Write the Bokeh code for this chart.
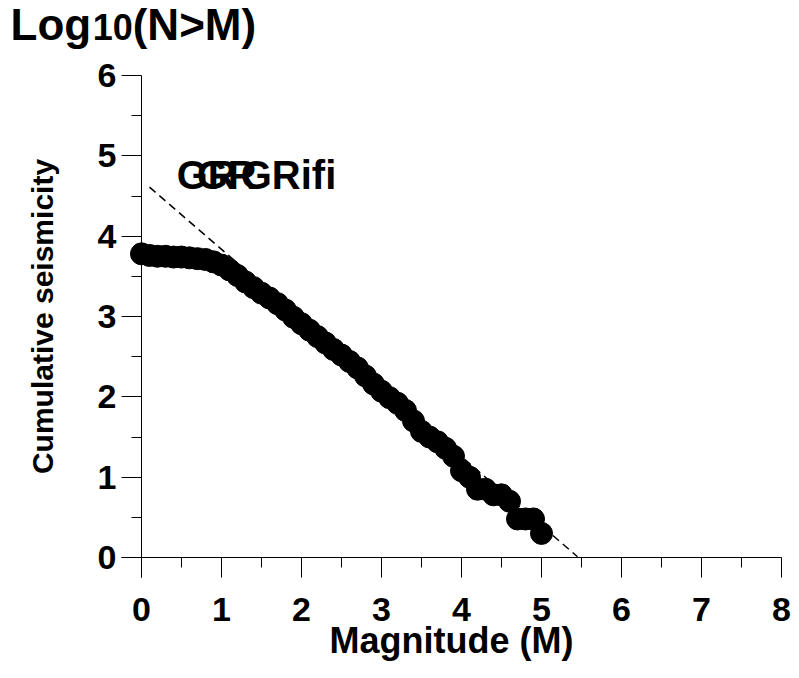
from bokeh.plotting import figure
from bokeh.models import Label, FixedTicker, Range1d, LinearAxis
from bokeh.embed import file_html
from bokeh.resources import INLINE

# ---- data ----
magnitude = [0.0, 0.1, 0.2, 0.3, 0.4, 0.5, 0.6, 0.7, 0.8, 0.9,
             1.0, 1.1, 1.2, 1.3, 1.4, 1.5, 1.6, 1.7, 1.8, 1.9,
             2.0, 2.1, 2.2, 2.3, 2.4, 2.5, 2.6, 2.7, 2.8, 2.9,
             3.0, 3.1, 3.2, 3.3, 3.4, 3.5, 3.6, 3.7, 3.8, 3.9,
             4.0, 4.1, 4.2, 4.3, 4.4, 4.5, 4.6, 4.7, 4.8, 4.9, 5.0]
log_n = [3.78, 3.76, 3.75, 3.75, 3.74, 3.74, 3.73, 3.72, 3.71, 3.68,
         3.64, 3.58, 3.51, 3.43, 3.36, 3.29, 3.23, 3.16, 3.08, 2.99,
         2.91, 2.83, 2.75, 2.67, 2.59, 2.52, 2.44, 2.36, 2.26, 2.16,
         2.07, 1.99, 1.92, 1.83, 1.70, 1.57, 1.50, 1.44, 1.36, 1.26,
         1.08, 1.00, 0.85, 0.85, 0.78, 0.78, 0.70, 0.48, 0.48, 0.48, 0.30]

fit_m = [0.1, 5.45]
fit_log_n = [4.61, 0.01]

x_ticks = [0, 1, 2, 3, 4, 5, 6, 7, 8]
x_minor = [0.5, 1.5, 2.5, 3.5, 4.5, 5.5, 6.5, 7.5]
y_ticks = [0, 1, 2, 3, 4, 5, 6]
y_minor = [0.5, 1.5, 2.5, 3.5, 4.5, 5.5]

x_label = "Magnitude (M)"
y_label = "Cumulative seismicity"
title_parts = ["Log", "10", "(N>M)"]
gr_labels = ["GR", "GR", "GRifi"]

FONT = "Liberation Sans"

# frame covers the whole canvas; axes sit at the origin
p = figure(width=799, height=678, output_backend="svg", toolbar_location=None,
           title=None, x_axis_location=None, y_axis_location=None,
           x_range=Range1d(-1.7625, 8.225), y_range=Range1d(-1.50622, 6.93361),
           min_border=0)
p.outline_line_color = None
p.grid.visible = False
p.background_fill_color = "white"
p.border_fill_color = "white"


def text_axis(side, ticks, bounds, standoff):
    ax = LinearAxis(fixed_location=0, bounds=bounds,
                    ticker=FixedTicker(ticks=ticks, minor_ticks=[]),
                    axis_line_color=None,
                    major_tick_line_color=None, minor_tick_line_color=None,
                    major_tick_out=20, major_tick_in=0,
                    minor_tick_out=0, minor_tick_in=0,
                    major_label_standoff=standoff,
                    major_label_text_font=FONT,
                    major_label_text_font_style="bold",
                    major_label_text_font_size="34px",
                    major_label_text_color="black",
                    axis_label_text_font=FONT,
                    axis_label_text_font_style="bold",
                    axis_label_text_color="black")
    p.add_layout(ax, side)
    return ax


xa = text_axis("below", x_ticks, (-0.25, 8), 20)
xa.axis_label = x_label
xa.axis_label_text_font_size = "36px"
xa.axis_label_standoff = -4

ya = text_axis("left", y_ticks, (0, 6), 5)
ya.axis_label = y_label
ya.axis_label_text_font_size = "30px"
ya.axis_label_standoff = 36

# axis lines with long (integer) and short (half) tick marks
for side, ticks, minors, bounds in (("below", x_ticks, x_minor, (-0.25, 8)),
                                    ("left", y_ticks, y_minor, (-0.249, 6))):
    long_ticks = LinearAxis(fixed_location=0, bounds=bounds,
                            ticker=FixedTicker(ticks=[], minor_ticks=ticks),
                            axis_line_color="black", axis_line_width=1,
                            major_tick_line_color=None,
                            minor_tick_line_color="black",
                            minor_tick_out=20, minor_tick_in=0)
    short_ticks = LinearAxis(fixed_location=0, bounds=bounds,
                             ticker=FixedTicker(ticks=[], minor_ticks=minors),
                             axis_line_color=None,
                             major_tick_line_color=None,
                             minor_tick_line_color="black",
                             minor_tick_out=10, minor_tick_in=0)
    p.add_layout(long_ticks, side)
    p.add_layout(short_ticks, side)

p.line(fit_m, fit_log_n, line_color="black", line_width=1.5, line_dash="8 5")
p.scatter(magnitude, log_n, size=22, fill_color="black", line_color="black")

# title "Log10(N>M)" with a lowered "10"
title_x = [-1.6375, -0.61, -0.11]
title_y = [6.635, 6.598, 6.635]
title_size = ["44px", "36px", "44px"]
for t, tx, ty, ts in zip(title_parts, title_x, title_y, title_size):
    p.add_layout(Label(x=tx, y=ty, text=t, text_font=FONT, text_font_style="bold",
                       text_font_size=ts, text_color="black",
                       text_baseline="alphabetic"))

# overlapping "GR" labels
gr_x = [0.44, 0.69, 1.24]
for t, tx in zip(gr_labels, gr_x):
    p.add_layout(Label(x=tx, y=4.76, text=t, text_font=FONT, text_font_style="bold",
                       text_font_size="40px", text_color="black",
                       text_baseline="alphabetic"))

open("out.html", "w").write(file_html(p, INLINE))
